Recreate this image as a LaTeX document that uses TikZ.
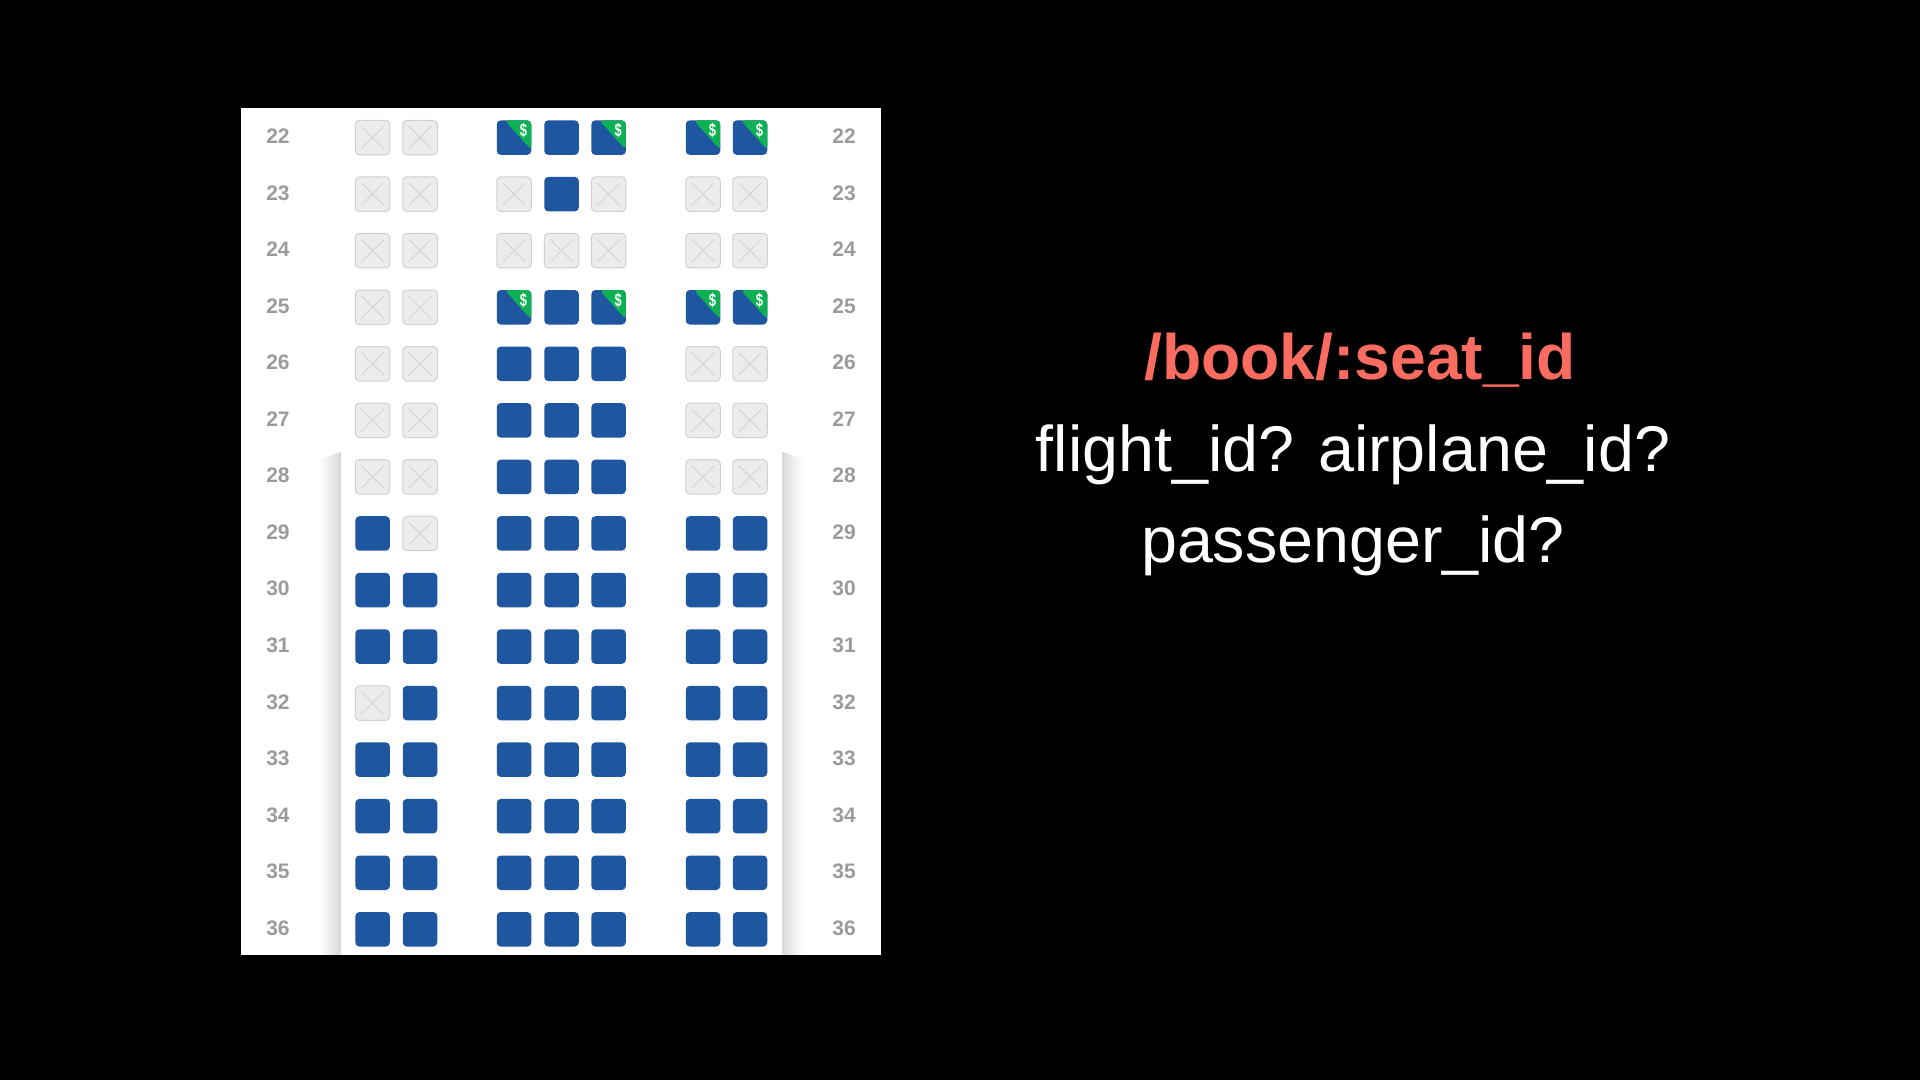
\documentclass[tikz,border=0pt]{standalone}
\usepackage{fontspec}
\setmainfont{Liberation Sans}
\usepackage{xcolor}
\usetikzlibrary{positioning}
\definecolor{seatblue}{RGB}{30,86,160}
\definecolor{seatgreen}{RGB}{14,176,84}
\definecolor{seatgray}{RGB}{236,236,236}
\definecolor{seatedge}{RGB}{208,208,208}
\definecolor{crossgray}{RGB}{212,212,212}
\definecolor{rowgray}{RGB}{155,155,155}
\definecolor{routered}{RGB}{250,108,96}
\tikzset{
  seat/.style={rectangle, rounded corners=4pt, minimum width=34.5pt,
    minimum height=34.5pt, inner sep=0pt, outer sep=0pt},
  seato/.style={seat, fill=seatblue},
  seatx/.style={seat, fill=seatgray, draw=seatedge, line width=1pt,
    path picture={\draw[crossgray, line width=1pt]
      ([shift={(6pt,6pt)}]path picture bounding box.south west)
        -- ([shift={(-6pt,-6pt)}]path picture bounding box.north east)
      ([shift={(6pt,-6pt)}]path picture bounding box.north west)
        -- ([shift={(-6pt,6pt)}]path picture bounding box.south east);}},
  seatp/.style={seat, fill=seatblue,
    path picture={\fill[seatgreen]
      ([xshift=8pt]path picture bounding box.north west)
        -- (path picture bounding box.north east)
        -- ([yshift=5pt]path picture bounding box.south east) -- cycle;},
    label={[dollar]center:\scalebox{.72}[1]{\$}}},
  dollar/.style={xshift=9.5pt, yshift=7pt, inner sep=0pt, text=white,
    font=\fontsize{18}{18}\selectfont\bfseries},
  rownum/.style={inner sep=0pt, text=rowgray,
    font=\fontsize{21}{21}\selectfont\bfseries},
  slide/.style={inner sep=0pt, anchor=base, text=white,
    font=\fontsize{64.6}{64.6}\selectfont},
}

\begin{document}
\begin{tikzpicture}[x=1pt, y=-1pt]
  \useasboundingbox (0,0) rectangle (1920,1080);
  \fill[black] (0,0) rectangle (1920,1080);
  \fill[white] (241,108) rectangle (881,955);
  % wing shadows
  \foreach \s in {0,...,22} {
    \pgfmathsetmacro{\shade}{15*(1-\s/23)^1.2}
    \pgfmathsetmacro{\topy}{452+\s*0.35}
    \fill[black!\shade!white] (340-\s,\topy) rectangle (341-\s,955);
    \fill[black!\shade!white] (782+\s,\topy) rectangle (783+\s,955);
  }
  \foreach \row/\seats [count=\n from 0] in {
      22/{x,x,p,o,p,p,p}, 23/{x,x,x,o,x,x,x}, 24/{x,x,x,x,x,x,x},
      25/{x,x,p,o,p,p,p}, 26/{x,x,o,o,o,x,x}, 27/{x,x,o,o,o,x,x},
      28/{x,x,o,o,o,x,x}, 29/{o,x,o,o,o,o,o}, 30/{o,o,o,o,o,o,o},
      31/{o,o,o,o,o,o,o}, 32/{x,o,o,o,o,o,o}, 33/{o,o,o,o,o,o,o},
      34/{o,o,o,o,o,o,o}, 35/{o,o,o,o,o,o,o}, 36/{o,o,o,o,o,o,o}} {
    \pgfmathsetmacro{\rowy}{137.3+56.55*\n}
    \node[rownum] (left\row) at (278,\rowy-1) {\row};
    \node[rownum] (right\row) at (844,\rowy-1) {\row};
    \foreach \kind [count=\col from 0] in \seats {
      \pgfmathsetmacro{\colx}{{372.6,420,514,561.5,608.6,703,750}[\col]}
      \node[seat\kind] (seat\row-\col) at (\colx,\rowy+0.3) {};
    }
  }
  \node[slide, text=routered, font=\fontsize{64.2}{64.2}\selectfont\bfseries]
    (route) at (1360,379) {/book/:seat\_id};
  \node[slide] (ids) at (1353,471) {flight\_id? airplane\_id?};
  \node[slide] (passenger) at (1353,562) {passenger\_id?};
\end{tikzpicture}
\end{document}
